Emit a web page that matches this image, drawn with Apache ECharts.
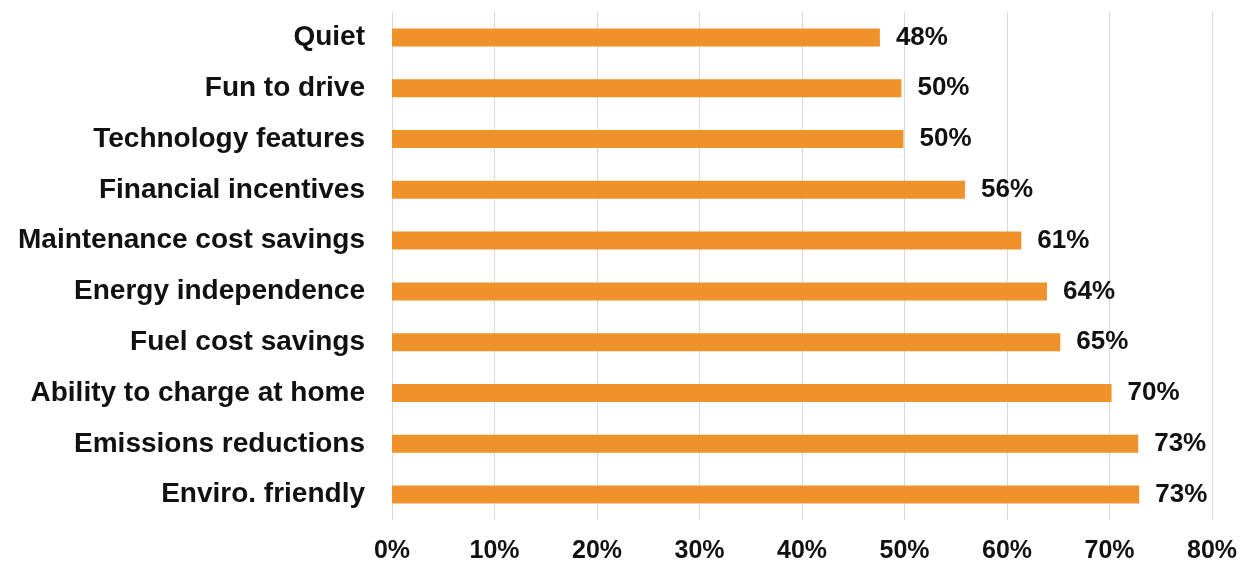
<!DOCTYPE html>
<html>
<head>
<meta charset="utf-8">
<script src="https://cdn.jsdelivr.net/npm/echarts@6/dist/echarts.min.js"></script>
<style>
  html, body { margin: 0; padding: 0; background: #fff; }
  #chart { width: 1242px; height: 564px; }
</style>
</head>
<body>
<div id="chart"></div>
<script>
  // top to bottom as shown
  const categories = ['Quiet', 'Fun to drive', 'Technology features', 'Financial incentives',
    'Maintenance cost savings', 'Energy independence', 'Fuel cost savings',
    'Ability to charge at home', 'Emissions reductions', 'Enviro. friendly']
  const values = [47.6, 49.7, 49.9, 55.9, 61.4, 63.9, 65.2, 70.2, 72.8, 72.9]
  const labels = ['48%', '50%', '50%', '56%', '61%', '64%', '65%', '70%', '73%', '73%']

  const font = "'Liberation Sans', Arial, sans-serif"

  const dom = echarts.init(document.getElementById('chart'))
  dom.setOption({
    animation: false,
    grid: { left: 392, right: 30, top: 12, bottom: 44 },
    xAxis: {
      type: 'value',
      min: 0,
      max: 80,
      interval: 10,
      axisLine: { show: false },
      axisTick: { show: false },
      splitLine: { lineStyle: { color: '#d9d9d9', width: 1 } },
      axisLabel: {
        formatter: '{value}%',
        color: '#111',
        fontFamily: font,
        fontWeight: 'bold',
        fontSize: 25,
        margin: 19
      }
    },
    yAxis: {
      type: 'category',
      inverse: true,
      data: categories,
      axisLine: { show: false },
      axisTick: { show: false },
      axisLabel: {
        color: '#111',
        fontFamily: font,
        fontWeight: 'bold',
        fontSize: 28,
        margin: 27
      }
    },
    series: [{
      type: 'bar',
      data: values,
      barWidth: 18,
      itemStyle: { color: '#F0922A' },
      label: {
        show: true,
        position: 'right',
        distance: 16,
        formatter: p => labels[p.dataIndex],
        color: '#111',
        fontFamily: font,
        fontWeight: 'bold',
        fontSize: 26
      }
    }]
  })
</script>
</body>
</html>
